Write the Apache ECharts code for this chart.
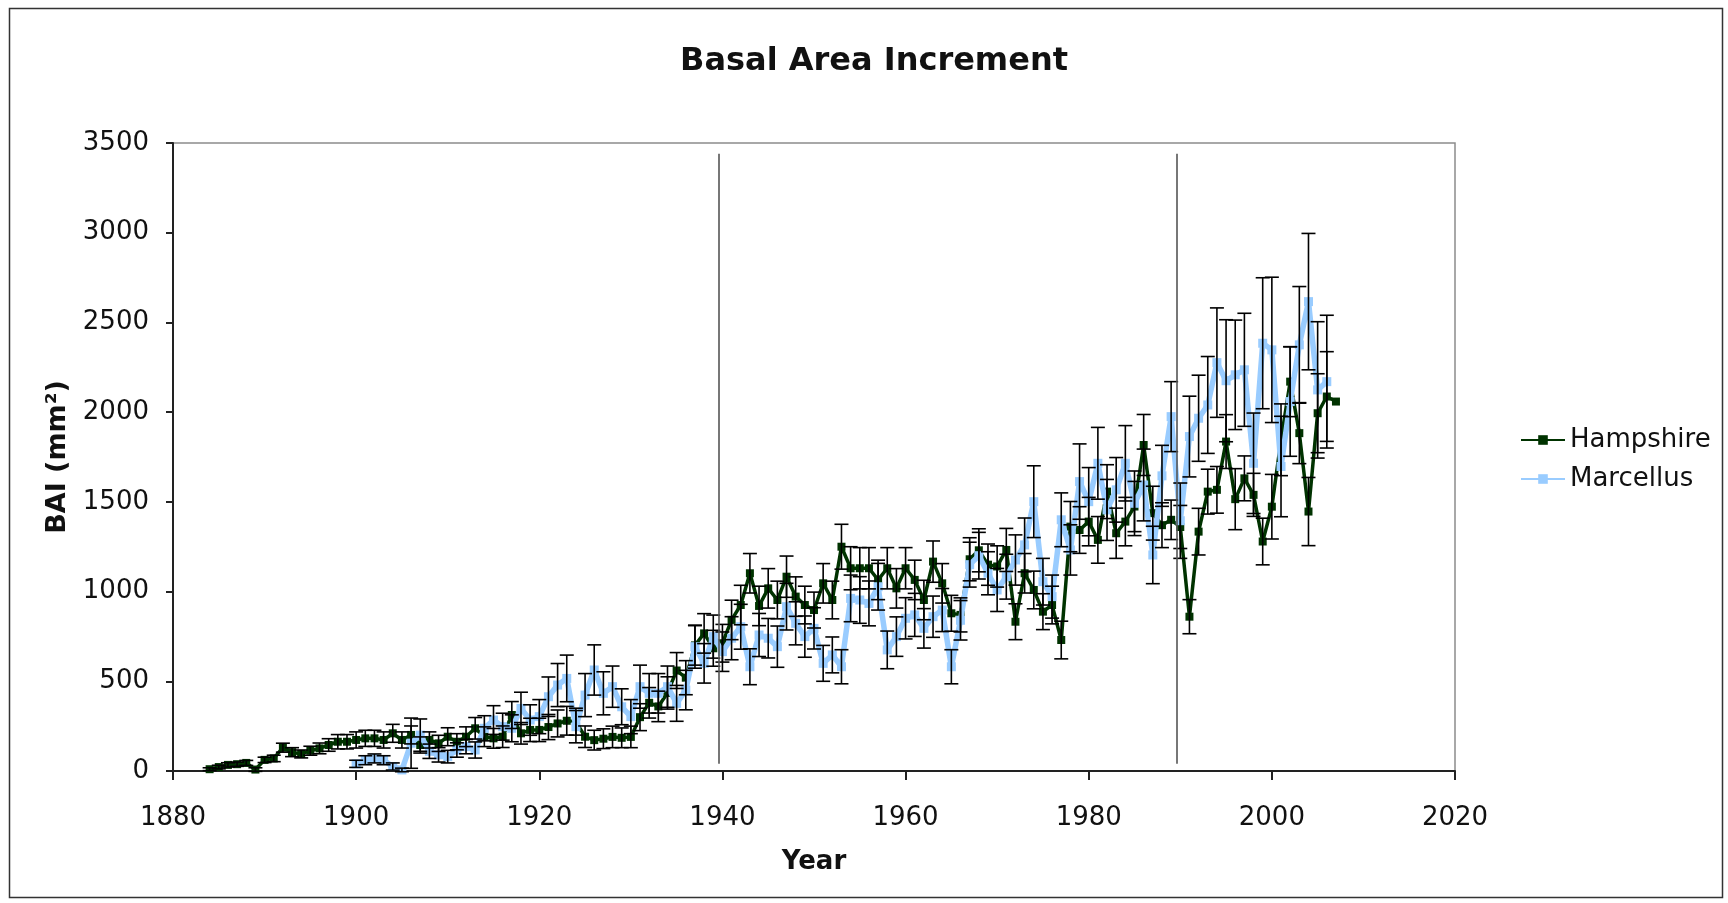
<!DOCTYPE html>
<html>
<head>
<meta charset="utf-8">
<title>Basal Area Increment</title>
<script src="https://cdn.jsdelivr.net/npm/echarts@6/dist/echarts.min.js"></script>
<style>
  html, body { margin: 0; padding: 0; background: #ffffff; }
  #chart { width: 1728px; height: 903px; }
</style>
</head>
<body>
<div id="chart"></div>
<script>
// Hampshire: annual basal area increment (mm²) with standard error
const hampshireYears = [
  1884, 1885, 1886, 1887, 1888, 1889, 1890, 1891, 1892, 1893, 1894, 1895, 1896, 1897, 1898, 1899,
  1900, 1901, 1902, 1903, 1904, 1905, 1906, 1907, 1908, 1909,
  1910, 1911, 1912, 1913, 1914, 1915, 1916, 1917, 1918, 1919,
  1920, 1921, 1922, 1923, 1924, 1925, 1926, 1927, 1928, 1929,
  1930, 1931, 1932, 1933, 1934, 1935, 1936, 1937, 1938, 1939,
  1940, 1941, 1942, 1943, 1944, 1945, 1946, 1947, 1948, 1949,
  1950, 1951, 1952, 1953, 1954, 1955, 1956, 1957, 1958, 1959,
  1960, 1961, 1962, 1963, 1964, 1965, 1966, 1967, 1968, 1969,
  1970, 1971, 1972, 1973, 1974, 1975, 1976, 1977, 1978, 1979,
  1980, 1981, 1982, 1983, 1984, 1985, 1986, 1987, 1988, 1989,
  1990, 1991, 1992, 1993, 1994, 1995, 1996, 1997, 1998, 1999,
  2000, 2001, 2002, 2003, 2004, 2005, 2006, 2007
];
const hampshireBAI = [
  10, 22, 34, 38, 45, 8, 62, 70, 130, 105, 95, 113, 126, 145, 163, 163,
  173, 182, 182, 173, 210, 173, 201, 145, 173, 154,
  191, 163, 191, 238, 191, 182, 191, 312, 210, 229,
  229, 245, 265, 280, 275, 191, 172, 180, 190, 185,
  190, 300, 380, 360, 435, 560, 520, 700, 767, 684,
  712, 842, 925, 1102, 920, 1018, 953, 1083, 972, 925,
  897, 1046, 953, 1250, 1130, 1130, 1130, 1065, 1130, 1018,
  1130, 1065, 953, 1167, 1046, 879, 870, 1180, 1230, 1150,
  1140, 1232, 832, 1102, 1009, 888, 925, 730, 1362, 1343,
  1390, 1288, 1557, 1325, 1390, 1474, 1817, 1437, 1370, 1400,
  1360, 860, 1334, 1557, 1567, 1836, 1515, 1631, 1539, 1279,
  1473, 1846, 2170, 1883, 1446, 1994, 2087, 2059
];
const hampshireErr = [
  8, 10, 12, 12, 14, 10, 15, 18, 25, 25, 22, 25, 30, 35, 40, 40,
  45, 45, 45, 45, 50, 45, 50, 45, 45, 45,
  50, 45, 55, 60, 55, 55, 60, 75, 60, 65,
  65, 70, 75, 80, 75, 60, 55, 55, 60, 55,
  60, 75, 85, 85, 90, 100, 95, 110, 110, 100,
  105, 110, 110, 110, 110, 110, 105, 115, 110, 105,
  100, 110, 105, 125, 120, 115, 115, 110, 115, 110,
  115, 110, 110, 115, 110, 100, 95, 120, 120, 115,
  115, 120, 100, 110, 105, 100, 105, 105, 140, 130,
  135, 130, 150, 140, 135, 140, 170, 150, 125, 110,
  120, 95, 130, 125, 130, 150, 170, 125, 120, 130,
  180, 200, 195, 170, 190, 220, 250, null
];

// Marcellus: annual basal area increment (mm²) with standard error
const marcellusYears = [
  1900, 1901, 1902, 1903, 1904, 1905, 1906, 1907, 1908, 1909,
  1910, 1911, 1912, 1913, 1914, 1915, 1916, 1917, 1918, 1919,
  1920, 1921, 1922, 1923, 1924, 1925, 1926, 1927, 1928, 1929,
  1930, 1931, 1932, 1933, 1934, 1935, 1936, 1937, 1938, 1939,
  1940, 1941, 1942, 1943, 1944, 1945, 1946, 1947, 1948, 1949,
  1950, 1951, 1952, 1953, 1954, 1955, 1956, 1957, 1958, 1959,
  1960, 1961, 1962, 1963, 1964, 1965, 1966, 1967, 1968, 1969,
  1970, 1971, 1972, 1973, 1974, 1975, 1976, 1977, 1978, 1979,
  1980, 1981, 1982, 1983, 1984, 1985, 1986, 1987, 1988, 1989,
  1990, 1991, 1992, 1993, 1994, 1995, 1996, 1997, 1998, 1999,
  2000, 2001, 2002, 2003, 2004, 2005, 2006
];
const marcellusBAI = [
  40, 60, 70, 60, 25, 6, 155, 200, 110, 90,
  80, 117, 136, 117, 238, 284, 247, 238, 349, 284,
  303, 414, 479, 516, 247, 423, 563, 433, 470, 358,
  303, 470, 433, 433, 470, 377, 451, 693, 600, 749,
  665, 740, 804, 581, 758, 740, 693, 916, 823, 749,
  795, 600, 647, 581, 962, 953, 934, 1027, 675, 749,
  851, 870, 795, 860, 897, 581, 840, 1150, 1200, 1102,
  1009, 1083, 1176, 1260, 1501, 1055, 972, 1400, 1232, 1613,
  1501, 1715, 1455, 1567, 1715, 1492, 1594, 1204, 1645, 1975,
  1395, 1864, 1966, 2040, 2276, 2175, 2208, 2236, 1715, 2384,
  2347, 1697, 2059, 2375, 2616, 2124, 2170
];
const marcellusErr = [
  20, 25, 25, 25, 20, 10, 140, 90, 40, 40,
  35, 40, 40, 45, 70, 80, 75, 75, 90, 85,
  95, 110, 120, 130, 90, 120, 140, 120, 115, 100,
  95, 120, 110, 110, 115, 100, 110, 120, 110, 120,
  110, 120, 125, 100, 120, 110, 115, 130, 120, 115,
  115, 100, 100, 95, 130, 130, 125, 130, 105, 110,
  115, 120, 110, 115, 120, 95, 110, 125, 130, 120,
  120, 125, 140, 150, 200, 130, 120, 150, 140, 210,
  190, 200, 170, 180, 210, 180, 200, 160, 170, 195,
  210, 225, 240, 270, 305, 340, 305, 315, 280, 365,
  405, 280, 305, 325, 380, 380, 370
];

// Axis ticks and reference years marked with vertical rules
const xTicks = { min: 1880, max: 2020, step: 20 };
const yTicks = { min: 0, max: 3500, step: 500 };
const markerYears = [1939.6, 1989.6];
const markerSpan = [40, 3440];

const GREEN = '#003300';
const BLUE = '#99ccff';
const FONT = 'Verdana, "DejaVu Sans", sans-serif';

function pairs(xs, ys) {
  return xs.map((x, i) => [x, ys[i]]);
}
function errorRows(xs, ys, es) {
  const rows = [];
  xs.forEach((x, i) => {
    if (es[i] != null) rows.push([x, ys[i] - es[i], ys[i] + es[i]]);
  });
  return rows;
}

// Black whiskers with short caps at both ends
function renderErrorBar(params, api) {
  const x = api.value(0);
  const hi = api.coord([x, api.value(2)]);
  const lo = api.coord([x, api.value(1)]);
  const hw = 7;
  const style = { stroke: '#000', lineWidth: 1.6 };
  return {
    type: 'group',
    children: [
      { type: 'line', shape: { x1: hi[0], y1: hi[1], x2: lo[0], y2: lo[1] }, style },
      { type: 'line', shape: { x1: hi[0] - hw, y1: hi[1], x2: hi[0] + hw, y2: hi[1] }, style },
      { type: 'line', shape: { x1: lo[0] - hw, y1: lo[1], x2: lo[0] + hw, y2: lo[1] }, style }
    ]
  };
}

const plainNumber = v => String(v);

const chart = echarts.init(document.getElementById('chart'), null, { renderer: 'canvas' });

const option = {
  backgroundColor: '#ffffff',
  animation: false,
  textStyle: { fontFamily: FONT, color: '#111' },
  title: {
    text: 'Basal Area Increment',
    left: 675,
    top: 41,
    textStyle: { fontFamily: FONT, fontSize: 32, fontWeight: 'bold', color: '#111' }
  },
  legend: {
    data: ['Hampshire', 'Marcellus'],
    orient: 'vertical',
    left: 1515,
    top: 422,
    itemWidth: 44,
    itemHeight: 12,
    itemGap: 13,
    textStyle: { fontFamily: FONT, fontSize: 26, color: '#111' }
  },
  grid: {
    left: 173,
    top: 143,
    right: 273,
    bottom: 132,
    show: true,
    borderColor: '#8c8c8c',
    borderWidth: 1.5,
    backgroundColor: '#ffffff',
    outerBoundsMode: 'none'
  },
  xAxis: {
    type: 'value',
    min: xTicks.min,
    max: xTicks.max,
    interval: xTicks.step,
    name: 'Year',
    nameLocation: 'middle',
    nameGap: 78,
    nameTextStyle: { fontFamily: FONT, fontSize: 26, fontWeight: 'bold', color: '#111' },
    axisLine: { onZero: false, lineStyle: { color: '#222', width: 2 } },
    axisTick: { show: true, length: 9, lineStyle: { color: '#222', width: 2 } },
    axisLabel: { fontFamily: FONT, fontSize: 26, color: '#111', margin: 34, formatter: plainNumber },
    splitLine: { show: false }
  },
  yAxis: {
    type: 'value',
    min: yTicks.min,
    max: yTicks.max,
    interval: yTicks.step,
    name: 'BAI (mm²)',
    nameLocation: 'middle',
    nameRotate: 90,
    nameGap: 96,
    nameTextStyle: { fontFamily: FONT, fontSize: 27, fontWeight: 'bold', color: '#111' },
    axisLine: { show: true, lineStyle: { color: '#222', width: 2 } },
    axisTick: { show: true, length: 7, lineStyle: { color: '#222', width: 2 } },
    axisLabel: { fontFamily: FONT, fontSize: 26, color: '#111', margin: 24, formatter: plainNumber },
    splitLine: { show: false }
  },
  series: [
    {
      name: 'Hampshire',
      type: 'line',
      data: pairs(hampshireYears, hampshireBAI),
      symbol: 'rect',
      symbolSize: 8,
      z: 2,
      lineStyle: { color: GREEN, width: 3.5 },
      itemStyle: { color: GREEN },
      markLine: {
        silent: true,
        symbol: 'none',
        label: { show: false },
        lineStyle: { color: '#555', width: 1.6, type: 'solid' },
        data: markerYears.map(y => [
          { coord: [y, markerSpan[0]] },
          { coord: [y, markerSpan[1]] }
        ])
      }
    },
    {
      name: 'Marcellus',
      type: 'line',
      data: pairs(marcellusYears, marcellusBAI),
      symbol: 'rect',
      symbolSize: 9,
      z: 3,
      lineStyle: { color: BLUE, width: 5.5 },
      itemStyle: { color: BLUE }
    },
    {
      name: 'Hampshire error',
      type: 'custom',
      renderItem: renderErrorBar,
      data: errorRows(hampshireYears, hampshireBAI, hampshireErr),
      encode: { x: 0, y: [1, 2] },
      z: 4,
      silent: true
    },
    {
      name: 'Marcellus error',
      type: 'custom',
      renderItem: renderErrorBar,
      data: errorRows(marcellusYears, marcellusBAI, marcellusErr),
      encode: { x: 0, y: [1, 2] },
      z: 4,
      silent: true
    }
  ],
  graphic: [
    {
      type: 'rect',
      shape: { x: 9.5, y: 8.5, width: 1713, height: 889 },
      style: { fill: 'none', stroke: '#333', lineWidth: 1.5 },
      silent: true,
      z: 100
    }
  ]
};

chart.setOption(option);
</script>
</body>
</html>
